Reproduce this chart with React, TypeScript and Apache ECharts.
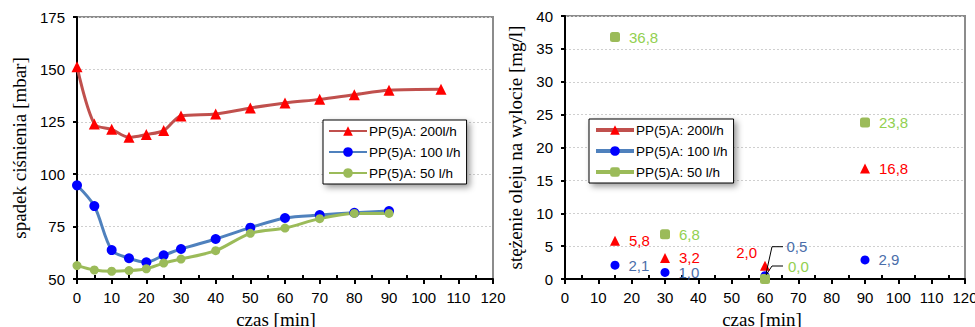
import React, { useEffect, useRef } from "react";
import * as echarts from "echarts";

// ---- data: left chart (pressure drop) ----
const timesLong = [0, 5, 10, 15, 20, 25, 30, 40, 50, 60, 70, 80, 90, 105];
const times = [0, 5, 10, 15, 20, 25, 30, 40, 50, 60, 70, 80, 90];
const drop200 = [151.3, 124, 121.4, 117.6, 118.9, 120.8, 127.8, 128.7, 131.6, 134, 135.7, 137.9, 140, 140.5];
const drop100 = [94.7, 84.8, 63.8, 59.9, 58, 61.3, 64.3, 69.1, 74.5, 79.1, 80.5, 81.6, 82.4];
const drop50 = [56.4, 54.3, 53.7, 54, 54.9, 57.6, 59.5, 63.5, 71.8, 74.3, 78.8, 81.3, 81.3];

// ---- data: right chart (oil concentration) ----
const sampleTimes = [15, 30, 60, 90];
const oil200 = [5.8, 3.2, 2.0, 16.8];
const oil100 = [2.1, 1.0, 0.5, 2.9];
const oil50 = [36.8, 6.8, 0.0, 23.8];

const seriesNames = ["PP(5)A: 200l/h", "PP(5)A: 100 l/h", "PP(5)A: 50 l/h"];
const xName = "czas [min]";
const yNameLeft = "spadek ciśnienia [mbar]";
const yNameRight = "stężenie oleju na wylocie [mg/l]";

const SANS = "Liberation Sans";
const SERIF = "Liberation Serif";

const fmt = (v: number) => v.toFixed(1).replace(".", ",");
const pairs = (xs: number[], ys: number[]) => ys.map((y, i) => [xs[i], y]);

function xAxisCfg(nameShift: number) {
  return {
    type: "value",
    min: 0,
    max: 120,
    interval: 10,
    name: xName,
    nameLocation: "middle",
    nameGap: 30,
    nameTextStyle: { fontFamily: SERIF, fontSize: 19, color: "#000", padding: [0, nameShift * 2, 0, 0] },
    axisLine: { show: true, onZero: false, lineStyle: { color: "#000", width: 2 } },
    axisTick: { show: true, length: 5, lineStyle: { color: "#000", width: 2 } },
    minorTick: { show: true, splitNumber: 2, length: -4, lineStyle: { color: "#000", width: 2 } },
    axisLabel: { fontFamily: SANS, fontSize: 15, color: "#000", margin: 11 },
    splitLine: { show: false },
  };
}

function yAxisCfg(min: number, max: number, interval: number, name: string, nameGap: number) {
  return {
    type: "value",
    min,
    max,
    interval,
    name,
    nameLocation: "middle",
    nameGap,
    nameTextStyle: { fontFamily: SERIF, fontSize: 19, color: "#000" },
    axisLine: { show: true, onZero: false, lineStyle: { color: "#000", width: 2 } },
    axisTick: { show: true, length: 4, lineStyle: { color: "#000", width: 2 } },
    axisLabel: { fontFamily: SANS, fontSize: 15, color: "#000", margin: 12 },
    splitLine: { show: true, lineStyle: { color: "#CFCFCF", width: 1, type: [2, 2] } },
  };
}

const legendBase = {
  orient: "vertical",
  itemWidth: 38,
  itemHeight: 12,
  itemGap: 7,
  padding: [4, 6, 4, 5],
  backgroundColor: "#fff",
  borderColor: "#000",
  borderWidth: 1,
  shadowBlur: 6,
  shadowColor: "rgba(0,0,0,0.4)",
  shadowOffsetX: 3,
  shadowOffsetY: 3,
  textStyle: { fontFamily: SANS, fontSize: 13.5, color: "#000", padding: [0, 0, 0, -3] },
  selectedMode: false,
};

const lineColors = ["#C0504D", "#4F81BD", "#9BBB59"];
const markerColors = ["#FF0000", "#0000FF", "#9BBB59"];
const labelColors = ["#FF0000", "#4A6EAA", "#92D050"];

export default function App() {
  const leftRef = useRef<HTMLDivElement>(null);
  const rightRef = useRef<HTMLDivElement>(null);

  useEffect(() => {
    const left = echarts.init(leftRef.current!, null, { renderer: "svg" });
    const right = echarts.init(rightRef.current!, null, { renderer: "svg" });

    const leftSeriesData = [pairs(timesLong, drop200), pairs(times, drop100), pairs(times, drop50)];
    const leftSymbols = ["triangle", "circle", "circle"];
    const leftSizes = [11, 10, 9];

    left.setOption({
      animation: false,
      grid: {
        left: 77,
        right: 17,
        top: 17,
        bottom: 48,
        outerBoundsMode: "none",
        show: true,
        borderColor: "#8C8C8C",
        borderWidth: 2,
        backgroundColor: "transparent",
      },
      xAxis: xAxisCfg(9),
      yAxis: yAxisCfg(50, 175, 25, yNameLeft, 44),
      legend: {
        ...legendBase,
        left: 323,
        top: 120,
        data: seriesNames,
      },
      series: seriesNames.map((name, i) => ({
        name,
        type: "line",
        smooth: 0.3,
        clip: false,
        symbol: leftSymbols[i],
        symbolSize: leftSizes[i],
        lineStyle: { color: lineColors[i], width: 3 },
        itemStyle: { color: markerColors[i] },
        data: leftSeriesData[i],
      })),
    });

    const rightValues = [oil200, oil100, oil50];
    const rightSymbols = ["triangle", "circle", "roundRect"];
    const rightSizes = [10, 9, 10];
    // special label placement for the crowded 60-minute samples
    const special: any[] = [
      { label: { position: "left", distance: 3, offset: [0, -13] } },
      { label: { position: "right", distance: 9, offset: [8, -29] } },
      { label: { position: "right", distance: 9, offset: [9, -13] } },
    ];

    right.setOption({
      animation: false,
      grid: {
        left: 65,
        right: 10,
        top: 16,
        bottom: 48,
        outerBoundsMode: "none",
        show: true,
        borderColor: "#8C8C8C",
        borderWidth: 2,
        backgroundColor: "transparent",
      },
      xAxis: xAxisCfg(3),
      yAxis: yAxisCfg(0, 40, 5, yNameRight, 35),
      legend: {
        ...legendBase,
        left: 89,
        top: 119,
        data: seriesNames.map((name, i) => ({
          name,
          lineStyle: { color: lineColors[i], width: 4, opacity: 1 },
        })),
      },
      series: seriesNames.map((name, i) => ({
        name,
        type: "line",
        clip: false,
        symbol: rightSymbols[i],
        symbolSize: rightSizes[i],
        lineStyle: { color: lineColors[i], width: 0 },
        itemStyle: { color: markerColors[i] },
        label: {
          show: true,
          position: "right",
          distance: 9,
          color: labelColors[i],
          fontFamily: SANS,
          fontSize: 15,
          lineHeight: 14,
          formatter: (p: any) => fmt(p.value[1]),
        },
        data: rightValues[i].map((v, j) =>
          sampleTimes[j] === 60 ? { value: [sampleTimes[j], v], ...special[i] } : { value: [sampleTimes[j], v] }
        ),
      })),
    });

    // leader lines for the two labels moved away from the 60-minute points
    const idx60 = sampleTimes.indexOf(60);
    const leaders: any[] = [];
    [
      { s: 1, up: 29, dx0: 1, dy0: -2 },
      { s: 2, up: 13, dx0: 1, dy0: -4 },
    ].forEach(({ s, up, dx0, dy0 }) => {
      const p = right.convertToPixel({ gridIndex: 0 }, [60, rightValues[s][idx60]]) as number[];
      leaders.push({
        type: "polyline",
        silent: true,
        z: 10,
        shape: {
          points: [
            [p[0] + dx0, p[1] + dy0],
            [p[0] + 7, p[1] - up],
            [p[0] + 18, p[1] - up],
          ],
        },
        style: { stroke: "#000", lineWidth: 1, fill: "none" },
      });
    });
    right.setOption({ graphic: leaders });

    return () => {
      left.dispose();
      right.dispose();
    };
  }, []);

  return (
    <div style={{ position: "fixed", left: 0, top: 0, width: 975, height: 327, background: "#fff", overflow: "hidden" }}>
      <div ref={leftRef} style={{ position: "absolute", left: 0, top: 0, width: 510, height: 327 }} />
      <div ref={rightRef} style={{ position: "absolute", left: 500, top: 0, width: 475, height: 327 }} />
    </div>
  );
}
